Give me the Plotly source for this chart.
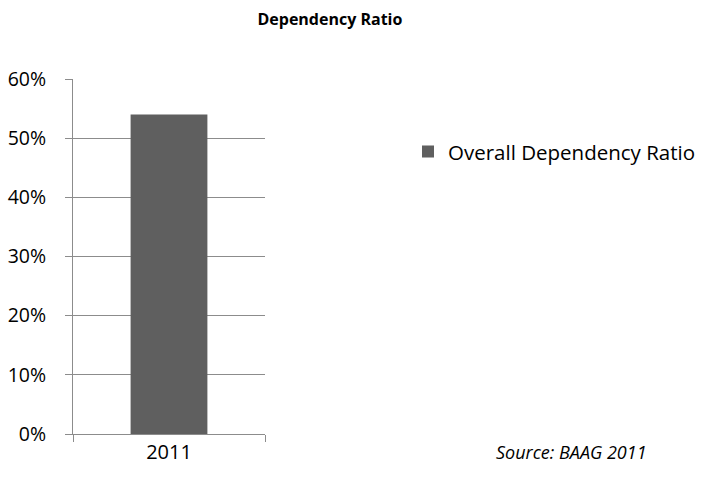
import plotly.graph_objects as go

categories = ["2011"]
values = [0.54]
series_name = "Overall Dependency Ratio"
y_ticks = [0, 0.1, 0.2, 0.3, 0.4, 0.5, 0.6]

FONT = "Open Sans"
GRID = "#8c8c8c"

fig = go.Figure()
fig.add_trace(go.Bar(
    x=categories, y=values, name=series_name,
    marker=dict(color="#5f5f5f", line=dict(width=0)),
    showlegend=True,
))

fig.update_layout(
    width=702, height=485,
    margin=dict(l=73, r=437, t=79, b=51, autoexpand=False),
    paper_bgcolor="white", plot_bgcolor="white",
    font=dict(family=FONT, size=20, color="#000000"),
    title=dict(text="<b>Dependency Ratio</b>", x=0.47, xanchor="center",
               y=0.961, yanchor="middle", font=dict(family=FONT, size=16)),
    bargap=0.6,
    showlegend=True,
    legend=dict(x=(408 - 73) / 192, y=0.795, xanchor="left", yanchor="middle",
                font=dict(family=FONT, size=20.5), bgcolor="rgba(0,0,0,0)",
                itemwidth=30),
)
fig.update_yaxes(
    range=[0, 0.6], tickvals=y_ticks, tickformat=".0%",
    showgrid=True, gridcolor=GRID, gridwidth=1,
    showline=True, linecolor=GRID, linewidth=1,
    ticks="outside", ticklen=7, tickcolor=GRID,
    zeroline=False, tickfont=dict(size=19.5), ticklabelstandoff=15,
    automargin=False,
)
fig.update_xaxes(
    showline=True, linecolor=GRID, linewidth=1,
    ticks="outside", ticklen=7, tickcolor=GRID, tickson="boundaries",
    tickfont=dict(size=20), automargin=False,
)
fig.add_annotation(
    text="<i>Source: BAAG 2011</i>", xref="paper", yref="paper",
    x=(571 - 73) / 192, y=(434 - 452) / 355, xanchor="center", yanchor="middle",
    showarrow=False, font=dict(family=FONT, size=18),
)

fig.write_html("out.html")
